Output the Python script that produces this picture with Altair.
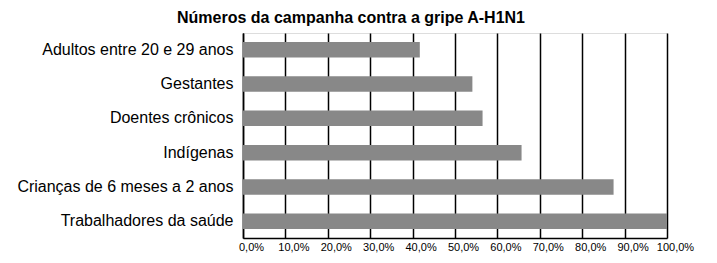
import altair as alt
import pandas as pd

categories = [
    "Adultos entre 20 e 29 anos",
    "Gestantes",
    "Doentes crônicos",
    "Indígenas",
    "Crianças de 6 meses a 2 anos",
    "Trabalhadores da saúde",
]
values = [41.7, 54.1, 56.5, 65.7, 87.4, 100.0]
tick_values = [0, 10, 20, 30, 40, 50, 60, 70, 80, 90, 100]

df = pd.DataFrame({"grupo": categories, "pct": values})

FONT = "Liberation Sans"

chart = (
    alt.Chart(df)
    .mark_bar(color="#888888")
    .encode(
        y=alt.Y(
            "grupo:N",
            sort=categories,
            title=None,
            scale=alt.Scale(paddingInner=0.55, paddingOuter=0.26),
            axis=alt.Axis(
                labelFont=FONT,
                labelFontSize=16,
                labelColor="#000000",
                labelPadding=10,
                ticks=False,
                domain=True,
                domainColor="#000000",
                domainWidth=1.5,
                grid=False,
                labelLimit=400,
            ),
        ),
        x=alt.X(
            "pct:Q",
            title=None,
            scale=alt.Scale(domain=[0, 100], nice=False),
            axis=alt.Axis(
                values=tick_values,
                labelExpr="replace(format(datum.value, '.1f'), '.', ',') + '%'",
                labelFont=FONT,
                labelFontSize=11,
                labelColor="#000000",
                labelOffset=8,
                labelPadding=3,
                labelFlush=False,
                ticks=False,
                domain=True,
                domainColor="#000000",
                domainWidth=1.5,
                grid=True,
                gridColor="#000000",
                gridWidth=1.5,
                gridOpacity=1,
            ),
        ),
    )
    .properties(
        width=424,
        height=205,
        title=alt.TitleParams(
            "Números da campanha contra a gripe A-H1N1",
            font=FONT,
            fontSize=16,
            fontWeight="bold",
            color="#000000",
            anchor="middle",
            frame="group",
            dx=-104,
            offset=7,
        ),
        autosize=alt.AutoSizeParams(type="none"),
        padding={"left": 243, "top": 33, "right": 50, "bottom": 25},
    )
    .configure_view(stroke=None)
    .configure(background="#ffffff")
)

chart.save("out.html", embed_options={"renderer": "svg", "actions": False})
